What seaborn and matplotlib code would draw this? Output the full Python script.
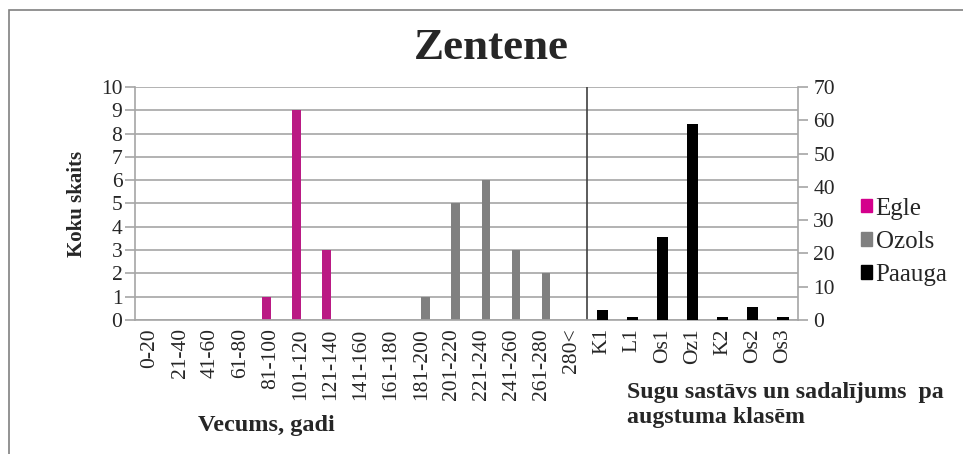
import numpy as np
import pandas as pd
import matplotlib.pyplot as plt
import seaborn as sns
from matplotlib.patches import Rectangle, Patch

# Data
age_classes = ["0-20", "21-40", "41-60", "61-80", "81-100", "101-120", "121-140",
               "141-160", "161-180", "181-200", "201-220", "221-240", "241-260",
               "261-280", "280<"]
height_classes = ["K1", "L1", "Os1", "Oz1", "K2", "Os2", "Os3"]
categories = age_classes + height_classes

egle = [0, 0, 0, 0, 1, 9, 3, 0, 0, 0, 0, 0, 0, 0, 0]
ozols = [0, 0, 0, 0, 0, 0, 0, 0, 0, 1, 5, 6, 3, 2, 0]
paauga = [3, 1, 25, 59, 1, 4, 1]

colors = {"Egle": "#d4008c", "Ozols": "#808080", "Paauga": "#000000"}

df_age = pd.DataFrame({
    "klase": age_classes * 2,
    "suga": ["Egle"] * len(age_classes) + ["Ozols"] * len(age_classes),
    "skaits": egle + ozols,
})
df_height = pd.DataFrame({"klase": height_classes, "skaits": paauga})

sns.set_style("white")
serif = ["Liberation Serif", "DejaVu Serif"]
plt.rcParams["font.family"] = serif

fig = plt.figure(figsize=(9.63, 4.54), dpi=100)
ax = fig.add_axes([135 / 963, 1 - 320 / 454, 663 / 963, 233 / 454])

grid_c = "#a6a6a6"

sns.barplot(data=df_age, x="klase", y="skaits", hue="suga", order=categories,
            hue_order=["Egle", "Ozols"], palette=colors, width=0.56,
            errorbar=None, linewidth=0, legend=False, ax=ax)

ax2 = ax.twinx()
sns.barplot(data=df_height, x="klase", y="skaits", order=categories,
            color=colors["Paauga"], width=0.37, errorbar=None, linewidth=0, ax=ax2)

# axes
ax.set_xlim(-0.5, len(categories) - 0.5)
ax.set_ylim(0, 10)
ax.set_yticks(range(0, 11))
ax2.set_ylim(0, 70)
ax2.set_yticks(range(0, 71, 10))

ax.set_xticks(range(len(categories)))
ax.set_xticklabels(categories, rotation=90, fontsize=15.5)
ax.set_xticks(np.arange(-0.5, len(categories), 1), minor=True)
ax.tick_params(axis="x", which="major", length=0, pad=6)
ax.tick_params(axis="x", which="minor", length=7, color=grid_c, width=1.2)
ax.tick_params(axis="y", length=7, color=grid_c, width=1.2, labelsize=15.5, pad=2)
ax2.tick_params(axis="y", length=7, color=grid_c, width=1.2, labelsize=15.5, pad=4)

ax.set_xlabel("")
ax.set_ylabel("Koku skaits", fontsize=15, fontweight="bold", labelpad=10)
ax2.set_ylabel("")

ax.yaxis.grid(True, color=grid_c, linewidth=1.2)
ax.set_axisbelow(True)

for s in ["top", "right"]:
    ax.spines[s].set_visible(False)
for s in ["left", "bottom"]:
    ax.spines[s].set_color(grid_c)
    ax.spines[s].set_linewidth(1.2)
for s in ["top", "left", "bottom"]:
    ax2.spines[s].set_visible(False)
ax2.spines["right"].set_color(grid_c)
ax2.spines["right"].set_linewidth(1.2)

# separator between the two groups
ax.axvline(len(age_classes) - 0.5, color="#404040", linewidth=1.2)

# title and axis captions
fig.text(491 / 963, 1 - 48 / 454, "Zentene", ha="center", va="center",
         fontsize=32.5, fontweight="bold")
fig.text(266 / 963, 1 - 425 / 454, "Vecums, gadi", ha="center", va="center",
         fontsize=17.5, fontweight="bold")
fig.text(627 / 963, 1 - 405 / 454, "Sugu sastāvs un sadalījums  pa\naugstuma klasēm",
         ha="left", va="center", fontsize=17.2, fontweight="bold", linespacing=1.2)

handles = [Patch(color=colors[k]) for k in ["Egle", "Ozols", "Paauga"]]
fig.legend(handles, ["Egle", "Ozols", "Paauga"], loc="upper left",
           bbox_to_anchor=(843 / 963, 1 - 180 / 454), frameon=False,
           prop={"family": serif, "size": 18},
           handlelength=0.45, handleheight=0.45, handletextpad=0.15, labelspacing=0.45,
           borderpad=0.2)

# outer frame
fig.patches.append(Rectangle((9 / 963, -0.1), 1.2, 1.1 - 10 / 454,
                             transform=fig.transFigure, fill=False,
                             edgecolor="#808080", linewidth=1.2))

plt.savefig("out.png", dpi=100)
